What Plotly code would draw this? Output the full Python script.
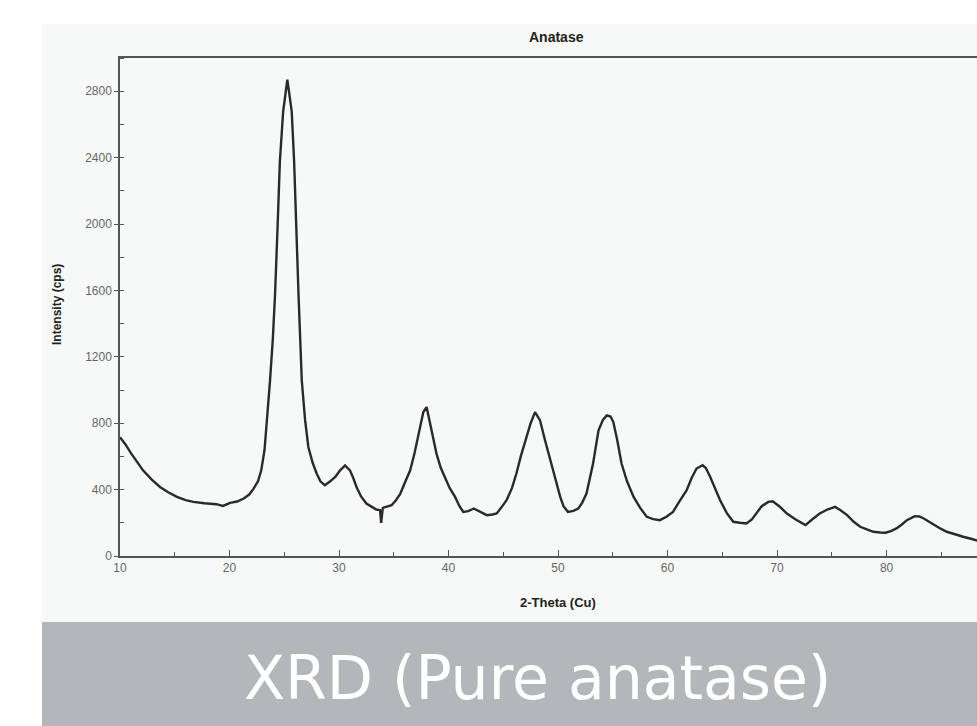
import plotly.graph_objects as go

# 2-theta (deg) and intensity (cps)
two_theta = [10.0, 10.5, 11.0, 11.6, 12.1, 12.9, 13.65, 14.4, 15.2, 16.0, 16.7, 17.7, 18.8, 19.4,
             20.05, 20.7, 21.3, 21.8, 22.2, 22.6, 22.9, 23.2, 23.4, 23.7, 23.95,
             24.16, 24.4, 24.6, 24.9, 25.1, 25.28, 25.45, 25.68, 25.9, 26.1, 26.3, 26.6, 26.9,
             27.2, 27.6, 27.96, 28.3, 28.7, 29.2, 29.7,
             30.1, 30.55, 31.0, 31.3, 31.6, 32.0, 32.5, 33.0, 33.4, 33.75, 33.85, 34.0, 34.4,
             34.8, 35.2, 35.6, 36.0, 36.5, 36.9, 37.25, 37.5,
             37.7, 38.0, 38.3, 38.6, 38.9, 39.3, 39.7, 40.1, 40.6, 41.0, 41.35, 41.8, 42.3,
             42.9, 43.5, 44.0, 44.4, 44.8, 45.3, 45.8, 46.2, 46.6,
             47.1, 47.5, 47.9, 48.36, 48.8, 49.3, 49.8, 50.2, 50.5, 50.9, 51.4, 51.85, 52.2,
             52.6, 53.2, 53.7, 54.1, 54.45, 54.8, 55.05, 55.4,
             55.8, 56.3, 56.9, 57.5, 58.1, 58.7, 59.3, 59.9, 60.5, 61.1, 61.75, 62.2, 62.65,
             63.2, 63.5, 63.9, 64.3, 64.8, 65.4, 66.0, 66.6, 67.2,
             67.7, 68.1, 68.6, 69.2, 69.6, 70.2, 70.9, 71.7, 72.6, 73.2, 73.9, 74.6, 75.3,
             75.8, 76.4, 77.0, 77.6, 78.2, 78.8, 79.4, 79.9, 80.4, 80.9,
             81.4, 81.85, 82.6, 83.0, 83.4, 83.8, 84.3, 84.9, 85.5, 86.2, 87.0, 87.7, 88.3]
intensity = [716, 672, 620, 566, 516, 460, 416, 384, 356, 336, 326, 318, 312, 302,
             320, 328, 346, 370, 406, 450, 516, 640, 797, 1057, 1300,
             1578, 2000, 2378, 2679, 2800, 2869, 2790, 2679, 2378, 1950, 1578, 1057, 820,
             657, 560, 497, 450, 426, 450, 480,
             516, 546, 516, 470, 416, 360, 316, 296, 280, 276, 200, 290, 296,
             306, 336, 376, 440, 516, 620, 737, 810,
             867, 897, 797, 700, 617, 530, 467, 410, 356, 300, 266, 270, 286,
             266, 246, 250, 256, 290, 336, 410, 497, 600,
             717, 800, 867, 817, 700, 577, 450, 356, 300, 266, 272, 286, 320,
             376, 557, 757, 820, 847, 840, 807, 700,
             557, 450, 356, 290, 236, 222, 216, 236, 266, 330, 396, 470, 527,
             547, 530, 476, 410, 336, 260, 206, 200, 196,
             220, 256, 300, 326, 330, 300, 256, 220, 186, 220, 256, 280, 296,
             276, 246, 206, 176, 160, 146, 142, 140, 150, 166,
             190, 216, 240, 238, 226, 210, 186, 166, 146, 130, 116, 104, 92]

y_ticks = [0, 400, 800, 1200, 1600, 2000, 2400, 2800]
x_ticks = [10, 20, 30, 40, 50, 60, 70, 80, 90]

PANEL = "#f7f9f8"
BAND = "#b3b7ba"

fig = go.Figure()
fig.add_trace(go.Scatter(x=two_theta, y=intensity, mode="lines",
                         line=dict(color="#2a2a2a", width=2.4), showlegend=False,
                         hoverinfo="skip"))

fig.update_layout(
    width=977, height=726,
    margin=dict(l=120, r=0, t=58, b=170),
    paper_bgcolor="white",
    plot_bgcolor=PANEL,
    font=dict(family="Liberation Sans, Arial, sans-serif", color="#555555", size=12),
    xaxis=dict(range=[10, 88.26], tickvals=x_ticks, showline=True, linecolor="#555555",
               linewidth=1.5, mirror=True, ticks="inside", ticklen=6, tickcolor="#555555",
               minor=dict(ticks="inside", dtick=5, ticklen=4, tickcolor="#555555"),
               showgrid=False, zeroline=False, tickfont=dict(size=12, color="#666666")),
    yaxis=dict(range=[0, 3000], tickvals=y_ticks, showline=True, linecolor="#555555",
               linewidth=1.5, ticks="outside", ticklen=4, tickcolor="#555555",
               minor=dict(ticks="inside", dtick=200, ticklen=4, tickcolor="#555555"),
               showgrid=False, zeroline=False, tickfont=dict(size=12, color="#666666")),
    shapes=[
        dict(type="rect", xref="paper", yref="paper", x0=-0.091, x1=1.01,
             y0=-0.1325, y1=1.068, fillcolor=PANEL, line=dict(width=0), layer="below"),
        dict(type="rect", xref="paper", yref="paper", x0=-0.091, x1=1.01,
             y0=-0.345, y1=-0.1325, fillcolor=BAND, line=dict(width=0), layer="below"),
    ],
    annotations=[
        dict(text="<b>Anatase</b>", xref="paper", yref="paper", x=0.5088, y=1.042,
             xanchor="center", yanchor="middle",
             showarrow=False, font=dict(size=14, color="#222222")),
        dict(text="<b>Intensity (cps)</b>", xref="paper", yref="paper", x=-0.0735, y=0.504,
             xanchor="center", yanchor="middle",
             textangle=-90, showarrow=False, font=dict(size=12, color="#222222")),
        dict(text="<b>2-Theta (Cu)</b>", xref="paper", yref="paper", x=0.511, y=-0.094,
             xanchor="center", yanchor="middle",
             showarrow=False, font=dict(size=13, color="#222222")),
        dict(text="XRD (Pure anatase)", xref="paper", yref="paper", x=0.4866, y=-0.245,
             xanchor="center", yanchor="middle",
             showarrow=False, font=dict(family="DejaVu Sans, sans-serif", size=60,
                                        color="white")),
    ],
)

fig.write_html(
    "out.html",
    config={"displayModeBar": False},
    post_script="document.body.style.margin='0';document.body.style.overflow='hidden';",
)
